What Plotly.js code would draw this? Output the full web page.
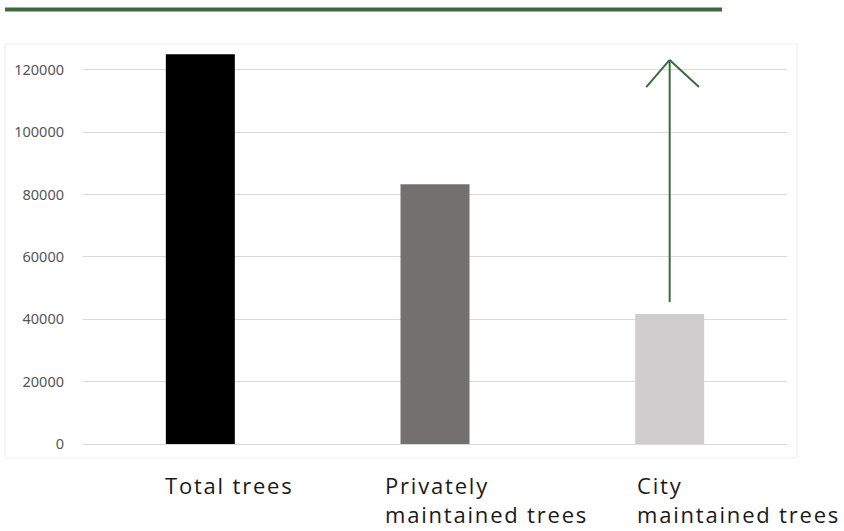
<!DOCTYPE html>
<html>
<head>
<meta charset="utf-8">
<script src="https://cdn.plot.ly/plotly-3.0.1.min.js"></script>
<style>html,body{margin:0;padding:0;background:#fff;}#chart{width:844px;height:531px;}
.annotation-text{letter-spacing:1.8px;}</style>
</head>
<body>
<div id="chart"></div>
<script>
const categories = ["Total trees", "Privately maintained trees", "City maintained trees"];
const categoryLabels = ["Total trees", "Privately<br>maintained trees", "City<br>maintained trees"];
const treeCounts = [125000, 83300, 41700];
const barColors = ["#000000", "#757070", "#cfcdce"];
const tickValues = [0, 20000, 40000, 60000, 80000, 100000, 120000];
const arrowFrom = 45500;
const arrowTo = 123200;
const arrowHeadBase = 114500;

const xIdx = categories.map((c, i) => i);
const trace = {
  type: "bar",
  x: xIdx,
  y: treeCounts,
  width: 0.294,
  marker: { color: barColors, line: { width: 0 } },
  hoverinfo: "skip"
};

const green = "#3b6b3d";
const labelShift = [-37, -52, -35];
const annotations = categoryLabels.map((t, i) => ({
  x: xIdx[i], xref: "x", y: -0.06, yref: "paper",
  xanchor: "left", yanchor: "top", align: "left",
  xshift: labelShift[i],
  text: t, showarrow: false,
  font: { family: "Open Sans, Noto Sans, sans-serif", size: 22, color: "#1a1a1a" }
}));

const layout = {
  width: 844, height: 531,
  margin: { l: 83, r: 57, t: 45, b: 87 },
  paper_bgcolor: "#ffffff",
  plot_bgcolor: "#ffffff",
  showlegend: false,
  xaxis: {
    range: [-0.5, 2.5],
    showticklabels: false, showgrid: false, zeroline: false,
    showline: false, ticks: ""
  },
  yaxis: {
    range: [0, 128000],
    tickvals: tickValues,
    ticktext: tickValues.map(String),
    showgrid: true, gridcolor: "#d9d9d9", gridwidth: 1,
    zeroline: true, zerolinecolor: "#d9d9d9", zerolinewidth: 1,
    showline: false, ticks: "",
    ticklabelstandoff: 18,
    tickfont: { family: "Noto Sans, sans-serif", size: 14.5, color: "#555555" }
  },
  shapes: [
    { type: "rect", xref: "paper", yref: "paper", x0: -0.1108, x1: 1.0142, y0: -0.035, y1: 1.0025,
      line: { color: "#eeeeee", width: 1 }, fillcolor: "rgba(0,0,0,0)", layer: "below" },
    { type: "line", xref: "paper", yref: "paper", x0: -0.1108, x1: 0.9077, y0: 1.089, y1: 1.089,
      line: { color: green, width: 4 } },
    { type: "line", xref: "x", yref: "y", x0: 2, x1: 2, y0: arrowFrom, y1: arrowTo,
      line: { color: green, width: 2 } },
    { type: "line", xref: "x", yref: "y", x0: 1.9, x1: 2, y0: arrowHeadBase, y1: arrowTo,
      line: { color: green, width: 2 } },
    { type: "line", xref: "x", yref: "y", x0: 2.125, x1: 2, y0: arrowHeadBase, y1: arrowTo,
      line: { color: green, width: 2 } }
  ],
  annotations: annotations
};

Plotly.newPlot("chart", [trace], layout, { displayModeBar: false, staticPlot: true });
</script>
</body>
</html>
